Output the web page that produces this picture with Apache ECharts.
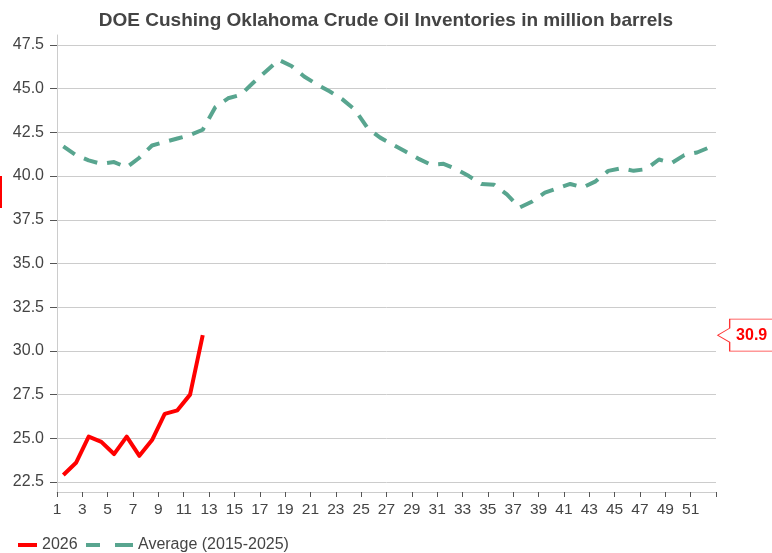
<!DOCTYPE html>
<html>
<head>
<meta charset="utf-8">
<script src="https://cdn.jsdelivr.net/npm/echarts@6/dist/echarts.min.js"></script>
<style>
html,body{margin:0;padding:0;background:#fff;}
#chart{width:772px;height:553px;}
</style>
</head>
<body>
<div id="chart"></div>
<script>
const titleText = 'DOE Cushing Oklahoma Crude Oil Inventories in million barrels';
const weeks = ['1','2','3','4','5','6','7','8','9','10','11','12','13','14','15','16','17','18','19','20',
  '21','22','23','24','25','26','27','28','29','30','31','32','33','34','35','36','37','38','39','40',
  '41','42','43','44','45','46','47','48','49','50','51','52'];
const series2026Name = '2026';
const series2026 = [22.9, 23.6, 25.1, 24.8, 24.1, 25.1, 24.0, 24.9, 26.4, 26.6, 27.5, 30.9];
const averageName = 'Average (2015-2025)';
const averageValues = [41.7, 41.2, 40.9, 40.7, 40.8, 40.5, 41.05, 41.75, 41.95, 42.15,
  42.35, 42.65, 43.95, 44.45, 44.65, 45.35, 46.0, 46.65, 46.3, 45.7,
  45.25, 44.85, 44.4, 43.8, 42.75, 42.2, 41.8, 41.4, 41.0, 40.65,
  40.7, 40.4, 40.0, 39.55, 39.5, 38.95, 38.2, 38.55, 39.05, 39.3,
  39.55, 39.35, 39.7, 40.3, 40.45, 40.3, 40.4, 40.95, 40.75, 41.2,
  41.35, 41.65];
const yTicks = [22.5, 25.0, 27.5, 30.0, 32.5, 35.0, 37.5, 40.0, 42.5, 45.0, 47.5];

const FONT = '"Liberation Sans", Arial, sans-serif';
const RED = '#ff0000';
const GREEN = '#58a58f';

const chart = echarts.init(document.getElementById('chart'), null, {renderer: 'canvas'});
const lastVal = series2026[series2026.length - 1];

chart.setOption({
  animation: false,
  backgroundColor: '#ffffff',
  textStyle: {fontFamily: FONT},
  title: {
    text: titleText,
    left: 'center',
    top: 6,
    textStyle: {fontFamily: FONT, fontSize: 19, fontWeight: 'bold', color: '#444444'}
  },
  grid: {left: 57, right: 56, top: 35, bottom: 61, containLabel: false},
  legend: [
    {
      data: [{name: series2026Name, icon: 'rect'}],
      left: 13, top: 532,
      itemWidth: 19, itemHeight: 4,
      textStyle: {fontFamily: FONT, fontSize: 16, color: '#444444'}
    },
    {
      data: [{name: averageName, icon: 'path://M0,0 L14,0 L14,4 L0,4 Z M29,0 L47,0 L47,4 L29,4 Z'}],
      left: 81, top: 532,
      itemWidth: 47, itemHeight: 4,
      textStyle: {fontFamily: FONT, fontSize: 16, color: '#444444'}
    }
  ],
  xAxis: {
    type: 'category',
    data: weeks,
    boundaryGap: true,
    axisLine: {show: true, lineStyle: {color: '#cccccc', width: 1}},
    axisTick: {show: true, interval: 1, alignWithLabel: false, length: 5, lineStyle: {color: '#555555'}},
    axisLabel: {
      interval: 1, margin: 10, fontSize: 15.5, color: '#444444', fontFamily: FONT,
      padding: [0, 12.7, 0, 0]
    },
    splitLine: {show: false}
  },
  yAxis: {
    type: 'value',
    min: 21.93,
    max: 48.07,
    axisLine: {show: true, lineStyle: {color: '#cccccc', width: 1}},
    axisTick: {show: true, length: 7, lineStyle: {color: '#555555'}, customValues: yTicks},
    axisLabel: {
      customValues: yTicks, margin: 13, fontSize: 16, color: '#444444', fontFamily: FONT,
      formatter: v => v.toFixed(1)
    },
    splitLine: {show: true, lineStyle: {color: '#cccccc', width: 1}}
  },
  series: [
    {
      name: averageName,
      type: 'line',
      data: averageValues,
      symbol: 'none',
      lineStyle: {color: GREEN, width: 4, type: [14, 10], cap: 'butt', join: 'round'},
      itemStyle: {color: GREEN},
      z: 2
    },
    {
      name: series2026Name,
      type: 'line',
      data: series2026,
      symbol: 'none',
      lineStyle: {color: RED, width: 4, join: 'round'},
      itemStyle: {color: RED},
      z: 3,
      markPoint: {
        silent: true,
        symbol: 'path://M0,16 L12,9 L12,0 L60,0 L60,32 L12,32 L12,23 Z',
        symbolSize: [60, 32],
        symbolKeepAspect: false,
        data: [{
          coord: [weeks[weeks.length - 1], lastVal],
          value: lastVal,
          symbolOffset: [38, 0]
        }],
        itemStyle: {color: '#ffffff', borderColor: '#ff3333', borderWidth: 1},
        label: {
          show: true,
          position: 'inside',
          offset: [4, 0],
          formatter: p => p.value.toFixed(1),
          color: RED,
          fontWeight: 'bold',
          fontSize: 16,
          fontFamily: FONT
        }
      }
    }
  ],
  graphic: [
    {type: 'rect', left: 0, top: 176, shape: {width: 2, height: 32}, style: {fill: RED}, silent: true}
  ]
});
</script>
</body>
</html>
